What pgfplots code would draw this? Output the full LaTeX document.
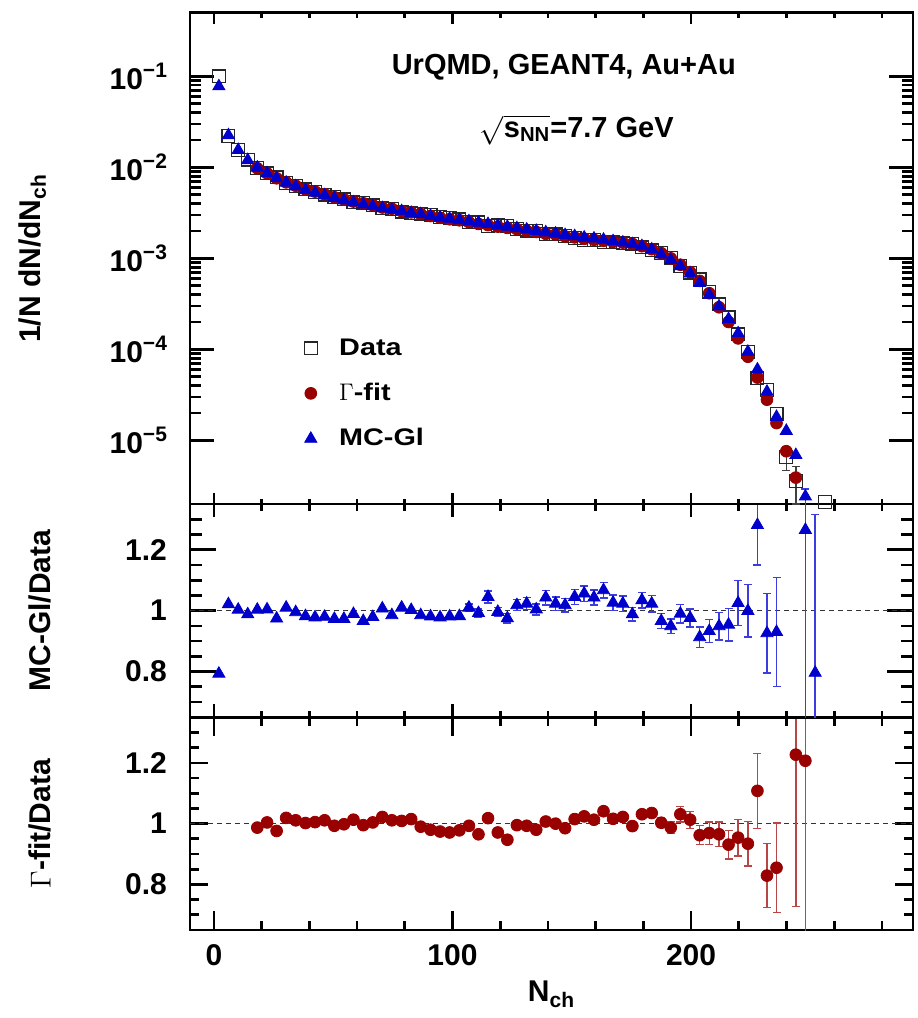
\documentclass[border=0pt]{standalone}
\usepackage{fontspec}
\setmainfont{Liberation Sans}
\newfontfamily\legfont{Liberation Sans}[FakeStretch=1.2]
\usepackage{amsmath}
\usepackage{pgfplots}
\usepackage{pgfplotstable}
\pgfplotsset{compat=1.18}
\newlength\px \setlength\px{0.5pt}
\definecolor{gred}{RGB}{153,0,0}
\definecolor{mcblue}{RGB}{0,0,204}
\definecolor{eblue}{RGB}{60,60,225}
\definecolor{ered}{RGB}{185,70,70}

% ---------- top panel ----------
\pgfplotstableread{
x y
2.1 0.1000
6.1 0.02204
10.2 0.01545
14.2 0.01215
18.2 0.00990
22.3 0.00856
26.3 0.00777
30.3 0.00671
34.3 0.00621
38.4 0.00572
42.4 0.00538
46.4 0.00501
50.5 0.00472
54.5 0.00445
58.5 0.00416
62.6 0.00405
66.6 0.00382
70.6 0.00354
74.6 0.00347
78.7 0.00327
82.7 0.00315
86.7 0.00310
90.8 0.00298
94.8 0.00286
98.8 0.00277
102.9 0.00268
106.9 0.00252
110.9 0.00248
114.9 0.00228
119.0 0.00230
123.0 0.00228
127.0 0.00210
131.1 0.00202
135.1 0.00199
139.1 0.00185
143.2 0.00183
147.2 0.00177
151.2 0.00167
155.2 0.00160
159.3 0.00158
163.3 0.00150
167.3 0.00150
171.4 0.00146
175.4 0.00145
179.4 0.00132
183.5 0.00122
187.5 0.00114
191.5 0.00101
195.5 0.000825
199.6 0.000697
203.6 0.000587
207.6 0.000427
211.7 0.000312
215.7 0.000225
219.7 0.000146
223.8 0.0000941
227.8 0.0000480
231.8 0.0000360
235.8 0.0000195
247.9 0.0000017
252.0 0.0000015
256.0 0.0000021
}\tabData
\pgfplotstableread{
x y e
239.9 0.0000066 0.0000019
243.9 0.0000036 0.0000016
}\tabDataE
\pgfplotstableread{
x y
18.2 0.00977
22.3 0.00859
26.3 0.00758
30.3 0.00684
34.3 0.00628
38.4 0.00573
42.4 0.00541
46.4 0.00507
50.5 0.00469
54.5 0.00444
58.5 0.00421
62.6 0.00403
66.6 0.00384
70.6 0.00362
74.6 0.00351
78.7 0.00330
82.7 0.00320
86.7 0.00307
90.8 0.00292
94.8 0.00279
98.8 0.00269
102.9 0.00262
106.9 0.00250
110.9 0.00239
114.9 0.00232
119.0 0.00223
123.0 0.00216
127.0 0.00209
131.1 0.00201
135.1 0.00195
139.1 0.00186
143.2 0.00183
147.2 0.00174
151.2 0.00170
155.2 0.00164
159.3 0.00160
163.3 0.00156
167.3 0.00152
171.4 0.00149
175.4 0.00144
179.4 0.00136
183.5 0.00126
187.5 0.00114
191.5 0.000999
195.5 0.000851
199.6 0.000706
203.6 0.000565
207.6 0.000414
211.7 0.000290
215.7 0.000200
219.7 0.000132
223.8 0.0000830
227.8 0.0000490
231.8 0.0000280
235.8 0.0000155
239.9 0.0000076
243.9 0.0000039
247.9 0.0000015
}\tabGfit
\pgfplotstableread{
x y
2.1 0.0777
6.1 0.0225
10.2 0.0155
14.2 0.0120
18.2 0.00993
22.3 0.00859
26.3 0.00757
30.3 0.00678
34.3 0.00618
38.4 0.00562
42.4 0.00526
46.4 0.00491
50.5 0.00459
54.5 0.00433
58.5 0.00411
62.6 0.00391
66.6 0.00374
70.6 0.00356
74.6 0.00342
78.7 0.00330
82.7 0.00316
86.7 0.00305
90.8 0.00292
94.8 0.00280
98.8 0.00272
102.9 0.00263
106.9 0.00255
110.9 0.00246
114.9 0.00238
119.0 0.00229
123.0 0.00222
127.0 0.00214
131.1 0.00207
135.1 0.00200
139.1 0.00193
143.2 0.00187
147.2 0.00180
151.2 0.00175
155.2 0.00169
159.3 0.00165
163.3 0.00160
167.3 0.00154
171.4 0.00149
175.4 0.00143
179.4 0.00136
183.5 0.00125
187.5 0.00110
191.5 0.000960
195.5 0.000817
199.6 0.000680
203.6 0.000536
207.6 0.000398
211.7 0.000296
215.7 0.000215
219.7 0.000150
223.8 0.0000940
227.8 0.0000600
231.8 0.0000342
235.8 0.0000181
239.9 0.0000127
243.9 0.0000069
252.0 0.0000012
}\tabMC
\pgfplotstableread{
x y e
247.9 0.00000242 0.0000005
}\tabMCE

% ---------- MC-Gl / Data ----------
\pgfplotstableread{
x y
2.1 0.793
6.1 1.021
10.2 1.003
14.2 0.988
18.2 1.003
22.3 1.004
26.3 0.974
30.3 1.010
34.3 0.995
38.4 0.982
42.4 0.978
46.4 0.980
50.5 0.973
54.5 0.973
58.5 0.989
62.6 0.966
66.6 0.979
70.6 1.007
74.6 0.985
78.7 1.010
82.7 1.002
86.7 0.985
90.8 0.981
94.8 0.978
98.8 0.981
102.9 0.982
}\tabRMC
\pgfplotstableread{
x y e
106.9 1.010 0.012
110.9 0.992 0.013
114.9 1.045 0.020
119.0 0.996 0.015
123.0 0.975 0.016
127.0 1.018 0.018
131.1 1.023 0.020
135.1 1.004 0.018
139.1 1.043 0.024
143.2 1.023 0.022
147.2 1.018 0.022
151.2 1.045 0.024
155.2 1.056 0.025
159.3 1.043 0.025
163.3 1.067 0.025
167.3 1.026 0.026
171.4 1.023 0.025
175.4 0.988 0.022
179.4 1.034 0.025
183.5 1.023 0.027
187.5 0.966 0.025
191.5 0.949 0.024
195.5 0.990 0.030
199.6 0.976 0.030
203.6 0.913 0.034
207.6 0.933 0.037
211.7 0.949 0.045
215.7 0.954 0.054
219.7 1.025 0.073
223.8 0.999 0.086
227.8 1.281 0.131
231.8 0.926 0.130
235.8 0.930 0.178
247.9 1.265 0.800
252.0 0.796 0.520
}\tabRMCE

% ---------- Gamma-fit / Data ----------
\pgfplotstableread{
x y
18.2 0.987
22.3 1.004
26.3 0.976
30.3 1.019
34.3 1.011
38.4 1.002
42.4 1.005
46.4 1.011
50.5 0.993
54.5 0.998
58.5 1.013
62.6 0.995
66.6 1.004
70.6 1.022
74.6 1.011
78.7 1.009
82.7 1.015
86.7 0.990
90.8 0.980
94.8 0.974
98.8 0.971
102.9 0.978
106.9 0.993
110.9 0.965
114.9 1.018
119.0 0.971
123.0 0.947
127.0 0.995
131.1 0.993
135.1 0.980
139.1 1.007
143.2 1.000
147.2 0.985
151.2 1.015
155.2 1.024
159.3 1.013
}\tabRG
\pgfplotstableread{
x y e
163.3 1.041 0.012
167.3 1.016 0.012
171.4 1.022 0.012
175.4 0.992 0.012
179.4 1.031 0.014
183.5 1.035 0.014
187.5 1.003 0.016
191.5 0.987 0.020
195.5 1.031 0.026
199.6 1.013 0.028
203.6 0.962 0.031
207.6 0.969 0.037
211.7 0.965 0.041
215.7 0.931 0.047
219.7 0.954 0.060
223.8 0.934 0.073
227.8 1.108 0.123
231.8 0.829 0.105
235.8 0.855 0.147
243.9 1.227 0.500
247.9 1.207 0.650
}\tabRGE

\pgfplotsset{
  panel/.style={
    scale only axis, width=723\px,
    xmin=-10, xmax=293,
    xtick={0,100,200},
    minor xtick={20,40,60,80,120,140,160,180,220,240,260,280},
    axis line style={line width=1.35pt},
    tick style={line width=1.35pt, black},
    /pgf/number format/assume math mode=true,
    tick label style={font=\bfseries\fontsize{15}{16}\selectfont},
    label style={font=\bfseries\fontsize{15}{17}\selectfont},
    yticklabel style={xshift=-8pt},
    xticklabel style={yshift=-3.5pt},
  },
  ratio/.style={
    ymin=0.65, ymax=1.35,
    ytick={0.8,1,1.2},
    minor ytick={0.7,0.75,0.85,0.9,0.95,1.05,1.1,1.15,1.25,1.3},
  },
  dataS/.style={only marks, mark=square, mark size=3.2pt, mark options={draw=black!85, fill=none, line width=0.6pt}},
  gS/.style={only marks, mark=*, mark size=2.95pt, mark options={draw=gred, fill=gred}},
  mcS/.style={only marks, mark=triangle*, mark size=3.5pt, mark options={draw=mcblue, fill=mcblue}},
}

\begin{document}
\begin{tikzpicture}
\useasboundingbox (-190\px,-88\px) rectangle (727\px,930\px);

% bottom: Gamma-fit / Data
\begin{axis}[panel, ratio, at={(0,0)}, anchor=south west, height=212.7\px,
  major x tick style={/pgfplots/major tick length=19\px},
  minor x tick style={/pgfplots/minor tick length=9\px},
  major y tick style={/pgfplots/major tick length=18\px},
  minor y tick style={/pgfplots/minor tick length=9\px},
  xlabel={N\textsubscript{ch}},
  xlabel style={at={(axis description cs:0.5,0)}, anchor=north, yshift=-22pt},
  ylabel={$\Gamma$-fit/Data},
  ylabel style={at={(axis description cs:-0.2075,0.5)}, anchor=center},
]
\addplot[dashed, dash pattern=on 5\px off 4\px, line width=0.5pt, black!80] coordinates {(-10,1) (293,1)};
\addplot[gS] table[x=x,y=y] {\tabRG};
\addplot[gS, error bars/.cd, y dir=both, y explicit,
  error bar style={ered, line width=0.7pt},
  error mark options={rotate=90, ered, mark size=2pt, line width=0.7pt}]
  table[x=x,y=y,y error=e] {\tabRGE};
\end{axis}

% middle: MC-Gl / Data
\begin{axis}[panel, ratio, at={(0,212.7\px)}, anchor=south west, height=213.3\px,
  xticklabels={},
  major x tick style={/pgfplots/major tick length=13\px},
  minor x tick style={/pgfplots/minor tick length=6.5\px},
  major y tick style={/pgfplots/major tick length=26\px},
  minor y tick style={/pgfplots/minor tick length=12\px},
  ylabel={MC-Gl/Data},
  ylabel style={at={(axis description cs:-0.2075,0.5)}, anchor=center},
]
\addplot[dashed, dash pattern=on 5\px off 4\px, line width=0.5pt, black!80] coordinates {(-10,1) (293,1)};
\addplot[mcS] table[x=x,y=y] {\tabRMC};
\addplot[mcS, error bars/.cd, y dir=both, y explicit,
  error bar style={eblue, line width=0.7pt},
  error mark options={rotate=90, eblue, mark size=2pt, line width=0.7pt}]
  table[x=x,y=y,y error=e] {\tabRMCE};
\end{axis}

% top: distribution
\begin{axis}[panel, at={(0,426\px)}, anchor=south west, height=491.3\px,
  ymode=log, ymin=2e-6, ymax=0.5,
  xticklabels={},
  ytick={1e-5,1e-4,1e-3,1e-2,1e-1},
  yticklabels={10\raisebox{0.4em}{\fontsize{10.5}{10}\selectfont −5},
               10\raisebox{0.4em}{\fontsize{10.5}{10}\selectfont −4},
               10\raisebox{0.4em}{\fontsize{10.5}{10}\selectfont −3},
               10\raisebox{0.4em}{\fontsize{10.5}{10}\selectfont −2},
               10\raisebox{0.4em}{\fontsize{10.5}{10}\selectfont −1}},
  major x tick style={/pgfplots/major tick length=11\px},
  minor x tick style={/pgfplots/minor tick length=5.5\px},
  major y tick style={/pgfplots/major tick length=24\px},
  minor y tick style={/pgfplots/minor tick length=11\px},
  ylabel={1/N dN/dN\textsubscript{ch}},
  ylabel style={at={(axis description cs:-0.2178,0.5)}, anchor=center},
  legend cell align=left,
  legend style={at={(axis description cs:0.1577,0.3455)}, anchor=north west,
    draw=none, fill=none, inner sep=0pt, row sep=8.5pt, column sep=9pt,
    font=\legfont\bfseries\fontsize{12}{14}\selectfont},
]
\addplot[dataS] table[x=x,y=y] {\tabData};
\addlegendentry{Data}
\addplot[dataS, forget plot, error bars/.cd, y dir=both, y explicit,
  error bar style={black!75, line width=0.7pt},
  error mark options={rotate=90, black!75, mark size=2pt, line width=0.7pt}]
  table[x=x,y=y,y error=e] {\tabDataE};
\addplot[gS] table[x=x,y=y] {\tabGfit};
\addlegendentry{$\Gamma$-fit}
\addplot[mcS] table[x=x,y=y] {\tabMC};
\addlegendentry{MC-Gl}
\addplot[mcS, forget plot, error bars/.cd, y dir=both, y explicit,
  error bar style={eblue, line width=0.7pt},
  error mark options={rotate=90, eblue, mark size=2pt, line width=0.7pt}]
  table[x=x,y=y,y error=e] {\tabMCE};
\node[font=\bfseries\fontsize{14.5}{16}\selectfont] at (rel axis cs:0.517,0.889) {UrQMD, GEANT4, Au+Au};
\node[font=\bfseries\fontsize{14.5}{16}\selectfont] at (rel axis cs:0.535,0.761) {$\sqrt{\text{s}_{\text{NN}}}$=7.7 GeV};
\end{axis}
\end{tikzpicture}
\end{document}
